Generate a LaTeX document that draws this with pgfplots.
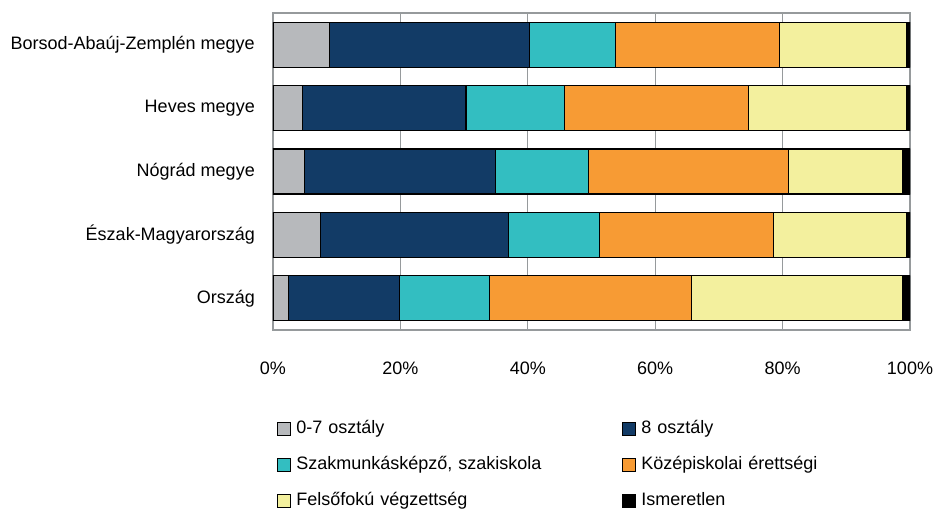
\documentclass[border=0pt]{standalone}
\usepackage{fontspec}
\setmainfont{Liberation Sans}
\usepackage{pgfplots}
\pgfplotsset{compat=1.18}
\definecolor{cgray}{HTML}{B7B9BC}
\definecolor{cnavy}{HTML}{123B66}
\definecolor{cteal}{HTML}{33BEC1}
\definecolor{corange}{HTML}{F79B34}
\definecolor{cyellow}{HTML}{F3F09E}
\definecolor{cgrid}{HTML}{969A9C}
\begin{document}
\fontsize{18}{21}\selectfont
\begin{tikzpicture}
\begin{axis}[
  name=ax,
  scale only axis,
  width=637pt, height=317pt,
  xbar stacked,
  bar width=45pt,
  xmin=0, xmax=100,
  ymin=-0.5, ymax=4.5,
  xtick={0,20,40,60,80,100},
  xticklabels={0\%,20\%,40\%,60\%,80\%,100\%},
  ytick={0,1,2,3,4},
  yticklabels={Ország,Észak-Magyarország,Nógrád megye,Heves megye,Borsod-Abaúj-Zemplén megye},
  major tick length=0pt,
  xmajorgrids,
  grid style={cgrid, line width=1pt},
  axis line style={cgrid, line width=1.2pt},
  /pgf/number format/assume math mode=true,
  tick label style={font=\fontsize{18}{21}\selectfont},
  xticklabel style={yshift=-26pt},
  yticklabel style={xshift=-12pt},
  legend columns=2,
  legend cell align=left,
  legend style={draw=none, fill=none, font=\fontsize{18}{21}\selectfont,
    at={(axis description cs:0.006,-0.279)}, anchor=north west,
    inner sep=0pt, row sep=16pt,
    nodes={text width=320pt, inner xsep=5.5pt, align=left}},
  legend image code/.code={\draw[#1,draw=black,line width=0.9pt] (0pt,-6.5pt) rectangle (13pt,6.5pt);},
  every axis plot/.append style={draw=black, line width=1.1pt},
]
\addplot[fill=cgray] coordinates {(2.5,0) (7.4,1) (4.9,2) (4.6,3) (8.9,4)};
\addplot[fill=cnavy] coordinates {(17.4,0) (29.6,1) (30.0,2) (25.7,3) (31.4,4)};
\addplot[fill=cteal] coordinates {(14.1,0) (14.3,1) (14.6,2) (15.5,3) (13.5,4)};
\addplot[fill=corange] coordinates {(31.7,0) (27.2,1) (31.4,2) (28.8,3) (25.7,4)};
\addplot[fill=cyellow] coordinates {(33.2,0) (21.0,1) (18.0,2) (24.9,3) (20.0,4)};
\addplot[fill=black] coordinates {(1.1,0) (0.5,1) (1.1,2) (0.5,3) (0.5,4)};
\legend{0-7 osztály,8 osztály,{Szakmunkásképző, szakiskola},Középiskolai érettségi,Felsőfokú végzettség,Ismeretlen}
\end{axis}
\pgfresetboundingbox
\path[use as bounding box] (ax.south west) ++(-273pt,-179pt) rectangle ++(933pt,509pt);
\end{tikzpicture}
\end{document}
